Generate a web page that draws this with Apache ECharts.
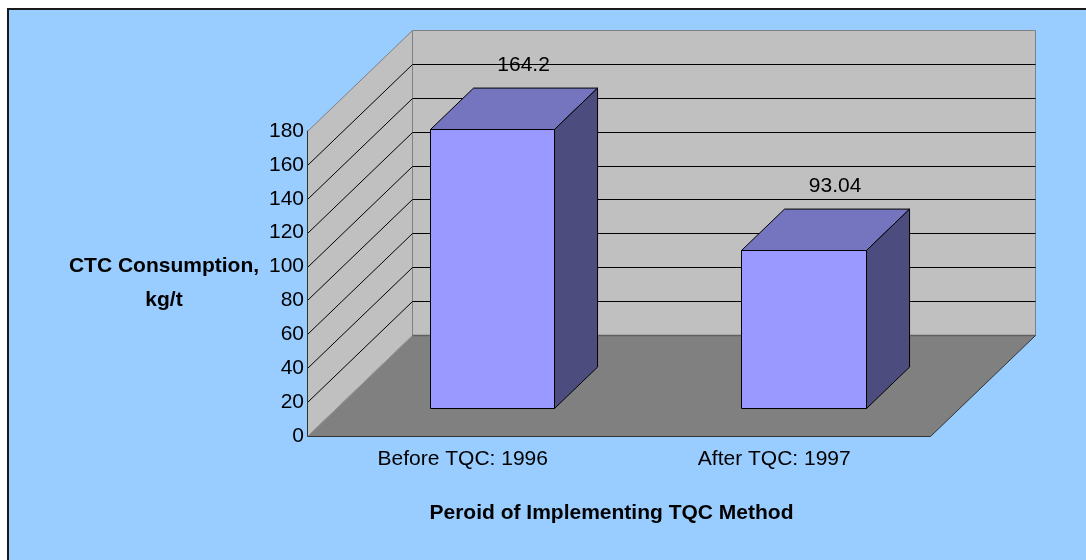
<!DOCTYPE html>
<html>
<head>
<meta charset="UTF-8">
<title>CTC Consumption</title>
<script src="https://cdn.jsdelivr.net/npm/echarts@6/dist/echarts.min.js"></script>
<style>
html, body { margin: 0; padding: 0; background: #ffffff; }
#chart { width: 1086px; height: 560px; }
</style>
</head>
<body>
<div id="chart"></div>
<script>
// data
var categories = ['Before TQC: 1996', 'After TQC: 1997'];
var consumption = [164.2, 93.04];
var yTicks = [0, 20, 40, 60, 80, 100, 120, 140, 160, 180];

var FONT = '"Liberation Sans", Arial, sans-serif';
var FS = 21;
// 3D look: offset of the back wall from the front plane, in px
var DEPTH = [105, -101];
// bar sits between these fractions of the depth
var BAR_FRONT = 0.28, BAR_BACK = 0.69, BAR_WIDTH = 0.4;

function px(v) { return Math.round(v) + 0.5; }

var chart = echarts.init(document.getElementById('chart'));

// walls, floor and grid lines of the 3D box
function renderBox(params, api) {
	var n = categories.length;
	var band = api.size([1, 0])[0];
	var left = px(api.coord([0, 0])[0] - band / 2);
	var right = px(api.coord([n - 1, 0])[0] + band / 2);
	var y0 = px(api.coord([0, yTicks[0]])[1]);
	var yTop = px(api.coord([0, yTicks[yTicks.length - 1]])[1]);
	var dx = DEPTH[0], dy = DEPTH[1];
	var kids = [];
	// back wall
	kids.push({
		type: 'rect',
		shape: { x: left + dx, y: yTop + dy, width: right - left, height: y0 - yTop },
		style: { fill: '#c0c0c0', stroke: '#808080', lineWidth: 1 }
	});
	// side wall
	kids.push({
		type: 'polygon',
		shape: { points: [[left, y0], [left, yTop], [left + dx, yTop + dy], [left + dx, y0 + dy]] },
		style: { fill: '#c0c0c0', stroke: '#808080', lineWidth: 1 }
	});
	// grid lines on both walls
	yTicks.slice(1, -1).forEach(function (v) {
		var y = px(api.coord([0, v])[1]);
		kids.push({
			type: 'polyline',
			shape: { points: [[left, y], [left + dx, y + dy], [right + dx, y + dy]] },
			style: { fill: null, stroke: '#000000', lineWidth: 1 }
		});
	});
	// floor
	kids.push({
		type: 'polygon',
		shape: { points: [[left, y0], [right, y0], [right + dx, y0 + dy], [left + dx, y0 + dy]] },
		style: { fill: '#808080', stroke: null }
	});
	kids.push({
		type: 'line',
		shape: { x1: left, y1: y0, x2: left + dx, y2: y0 + dy },
		style: { stroke: '#9a9a9a', lineWidth: 1 }
	});
	kids.push({
		type: 'line',
		shape: { x1: left + dx, y1: y0 + dy, x2: right + dx, y2: y0 + dy },
		style: { stroke: '#606060', lineWidth: 1.5 }
	});
	kids.push({
		type: 'polyline',
		shape: { points: [[left, y0], [right, y0], [right + dx, y0 + dy]] },
		style: { fill: null, stroke: '#333333', lineWidth: 1 }
	});
	return { type: 'group', children: kids };
}

// one 3D bar per category
function renderBar(params, api) {
	var base = api.coord([api.value(0), 0]);
	var top = api.coord([api.value(0), api.value(1)]);
	var band = api.size([1, 0])[0];
	var hw = band * BAR_WIDTH / 2;
	var fx = DEPTH[0] * BAR_FRONT, fy = DEPTH[1] * BAR_FRONT;
	var ddx = DEPTH[0] * (BAR_BACK - BAR_FRONT), ddy = DEPTH[1] * (BAR_BACK - BAR_FRONT);
	var x0 = px(base[0] - hw + fx), x1 = px(base[0] + hw + fx);
	var yb = px(base[1] + fy), yt = px(top[1] + fy);
	var edge = { stroke: '#000000', lineWidth: 1 };
	return {
		type: 'group',
		children: [{
			type: 'rect',
			shape: { x: x0, y: yt, width: x1 - x0, height: yb - yt },
			style: echarts.util.extend({ fill: '#9999ff' }, edge)
		}, {
			type: 'polygon',
			shape: { points: [[x0, yt], [x1, yt], [x1 + ddx, yt + ddy], [x0 + ddx, yt + ddy]] },
			style: echarts.util.extend({ fill: '#7575bf' }, edge)
		}, {
			type: 'polygon',
			shape: { points: [[x1, yb], [x1, yt], [x1 + ddx, yt + ddy], [x1 + ddx, yb + ddy]] },
			style: echarts.util.extend({ fill: '#4c4c7f' }, edge)
		}, {
			type: 'text',
			x: (x0 + x1) / 2 + ddx - 12,
			y: yt + ddy - 23,
			style: {
				text: String(api.value(1)),
				fontFamily: FONT,
				fontSize: FS,
				fill: '#000000',
				align: 'center',
				verticalAlign: 'middle'
			}
		}]
	};
}

var option = {
	animation: false,
	backgroundColor: '#ffffff',
	textStyle: { fontFamily: FONT },
	graphic: [{
		type: 'rect',
		z: -10,
		shape: { x: 8, y: 9, width: 1200, height: 700 },
		style: { fill: '#99ccff', stroke: '#1a1a1a', lineWidth: 2 }
	}],
	grid: {
		left: 307,
		right: 156,
		top: 131,
		bottom: 124,
		containLabel: false,
		outerBoundsMode: 'none'
	},
	xAxis: {
		type: 'category',
		data: categories,
		z: 5,
		axisLine: { show: false },
		axisTick: { show: false },
		axisLabel: { margin: 13, fontSize: FS, color: '#000000', fontFamily: FONT },
		name: 'Peroid of Implementing TQC Method',
		nameLocation: 'middle',
		nameGap: 67,
		nameMoveOverlap: false,
		nameTextStyle: { fontSize: FS, fontWeight: 'bold', color: '#000000', fontFamily: FONT, padding: [0, 14, 0, 0] }
	},
	yAxis: {
		type: 'value',
		min: 0,
		max: 180,
		interval: 20,
		z: 5,
		axisLine: { show: true, lineStyle: { color: '#333333', width: 1 } },
		axisTick: { show: false },
		splitLine: { show: false },
		axisLabel: { margin: 3, fontSize: FS, color: '#000000', fontFamily: FONT },
		name: 'CTC Consumption,\nkg/t',
		nameLocation: 'middle',
		nameRotate: 0,
		nameGap: 143,
		nameMoveOverlap: false,
		nameTextStyle: { fontSize: FS, fontWeight: 'bold', color: '#000000', fontFamily: FONT, align: 'center', lineHeight: 34 }
	},
	series: [{
		type: 'custom',
		z: 1,
		silent: true,
		renderItem: renderBox,
		data: [[0, 0]]
	}, {
		type: 'custom',
		z: 3,
		renderItem: renderBar,
		data: categories.map(function (c, i) { return [i, consumption[i]]; })
	}]
};

chart.setOption(option);
</script>
</body>
</html>
